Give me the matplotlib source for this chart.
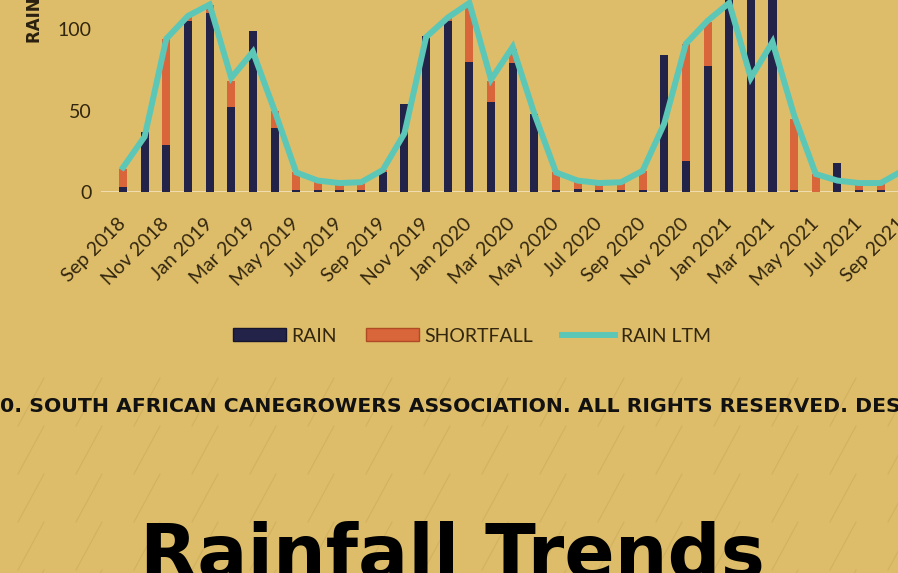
import numpy as np
import pandas as pd
import matplotlib
matplotlib.use("Agg")
import matplotlib.pyplot as plt
from matplotlib.patches import Patch
from matplotlib.lines import Line2D

# monthly categories, Sep 2018 .. Sep 2021
months = list(pd.date_range("2018-09-01", periods=37, freq="MS").strftime("%b %Y"))

# rainfall (mm)
rain = [3, 37, 29, 105, 110, 52, 99, 39, 1, 1, 1, 1,
        12, 54, 96, 105, 80, 55, 79, 48, 1, 2, 1, 1,
        1, 84, 19, 77, 135, 125, 130, 1, 0, 18, 1, 1, 2]
shortfall = [11, 0, 65, 3, 5, 16, 0, 11, 11, 6, 4.5, 5,
             1.5, 0, 0, 2, 34, 13, 9, 0, 11, 5, 4.5, 5,
             12, 0, 72, 27, 0, 0, 0, 44, 11, 0, 4.5, 4.5, 11]
rain_ltm = [15, 34, 94, 108, 115, 70, 86, 50, 12, 7, 5.5, 6,
            13.5, 36, 95, 107, 116, 69, 89, 48, 12, 7, 5.5, 6,
            13, 42, 91, 105, 116, 70, 92, 47, 11, 7, 5.5, 5.5, 13]

BG = "#DDBD69"
NAVY = "#23234A"
ORANGE = "#D9653A"
TEAL = "#5CC7B7"
TXT = "#33260F"

W, H = 898, 573
fig = plt.figure(figsize=(W / 100, H / 100), dpi=100)
fig.patch.set_facecolor(BG)

# faint diagonal stripes in the page background
for row_top in range(378, H, 48):
    for x0 in range(-40, W + 40, 58):
        fig.add_artist(Line2D([x0 / W, (x0 + 26) / W],
                              [1 - (row_top + 48) / H, 1 - row_top / H],
                              transform=fig.transFigure, color="#CBAA5C",
                              lw=0.8, alpha=0.6, zorder=0))

# chart axes (extends above the visible top edge, as in the screenshot crop)
px_per_unit = 1.63
step = 21.65
left_px = 123 - step
ax = fig.add_axes([left_px / W, (H - 192) / H, 38 * step / W, 140 * px_per_unit / H])
ax.set_facecolor("none")

x = np.arange(len(months))
ax.axhline(0, color="#F3E4BE", lw=1.2, zorder=1)
ax.bar(x, rain, width=0.37, color=NAVY, zorder=2)
ax.bar(x, shortfall, bottom=rain, width=0.37, color=ORANGE, zorder=2)
ax.plot(x, rain_ltm, color=TEAL, lw=4.3, solid_joinstyle="miter", zorder=3)

ax.set_xlim(-1, 37)
ax.set_ylim(0, 140)
for s in ax.spines.values():
    s.set_visible(False)

ax.set_yticks([0, 50, 100])
ax.tick_params(axis="y", length=0, pad=7, labelsize=14, labelcolor=TXT)
ax.set_xticks(x[::2])
ax.set_xticklabels(months[::2], rotation=45, ha="right", va="center",
                   rotation_mode="anchor")
ax.tick_params(axis="x", length=0, pad=21, labelsize=14, labelcolor=TXT)
for lab in ax.get_xticklabels() + ax.get_yticklabels():
    lab.set_family("Lato")

fig.text(35 / W, 1 - 43 / H, "RAINFALL (MM)", rotation=90, ha="center",
         va="bottom", fontsize=12, fontweight="bold", color="#2A2010")

handles = [Patch(facecolor=NAVY, edgecolor="#15152E"),
           Patch(facecolor=ORANGE, edgecolor="#B04A25"),
           Line2D([0], [0], color=TEAL, lw=4.3)]
leg = fig.legend(handles, ["RAIN", "SHORTFALL", "RAIN LTM"], loc="center",
                 bbox_to_anchor=(472 / W, 1 - 336 / H), ncol=3, frameon=False,
                 handlelength=2.7, handleheight=0.6, handletextpad=0.3,
                 columnspacing=1.5, prop={"family": "Lato", "size": 14})
for t in leg.get_texts():
    t.set_color(TXT)

fig.text(0, 1 - 406 / H,
         "0. SOUTH AFRICAN CANEGROWERS ASSOCIATION. ALL RIGHTS RESERVED. DESIGNED BY",
         ha="left", va="center", fontsize=14.7, fontweight="bold", color="#111111")

fig.text(140 / W, 1 - 578 / H, "Rainfall Trends", ha="left", va="baseline",
         fontsize=53.5, fontweight="bold", color="#000000")

fig.savefig("out.png", dpi=100, facecolor=BG)
